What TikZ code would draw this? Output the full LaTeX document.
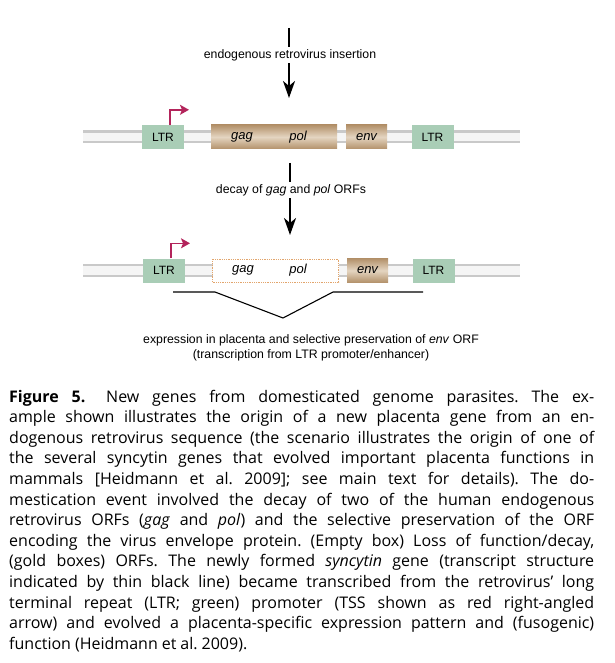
\documentclass[tikz,border=0pt]{standalone}
\usepackage{fontspec}
\setmainfont{Liberation Sans}
\newfontfamily\capfont{Open Sans}
\usetikzlibrary{arrows.meta}

\definecolor{ltrgreen}{HTML}{A9CDB6}
\definecolor{orftan}{HTML}{B3916A}
\definecolor{orflight}{HTML}{E4D5C1}
\definecolor{tssred}{HTML}{B3245B}
\definecolor{decayorange}{HTML}{E2A56C}

\newcommand{\capline}[1]{\hbox to 585pt{#1}}

\tikzset{
  dna/.style={line width=13pt, color=gray!42},
  dnacore/.style={line width=8.5pt, color=gray!8},
  ltrbox/.style={fill=ltrgreen, minimum width=42pt, minimum height=24pt, inner sep=0pt,
    font=\fontsize{12}{14}\selectfont},
  orfbox/.style={top color=orftan, bottom color=orftan, middle color=orflight,
    minimum height=24pt, inner sep=0pt, font=\fontsize{13}{15}\selectfont\itshape},
  emptybox/.style={draw=decayorange, densely dotted, line width=0.8pt, fill=white,
    minimum height=23pt, inner sep=0pt},
  orflabel/.style={inner sep=0pt, font=\fontsize{13}{15}\selectfont\itshape},
  lbl/.style={inner sep=2.5pt, font=\fontsize{12.3}{14.5}\selectfont},
  stem/.style={line width=2pt},
  bigarrow/.style={line width=2pt, -{Stealth[length=17pt,width=12pt,inset=5pt]}},
  tss/.style={draw=tssred, line width=1.6pt, -{Stealth[length=9pt,width=10pt,inset=2pt,fill=tssred]}},
  transcript/.style={line width=1.1pt}
}

\begin{document}
\begin{tikzpicture}[x=1pt, y=-1pt]
\useasboundingbox (0,0) rectangle (614,663);

% insertion
\coordinate (insTop) at (289,28);
\coordinate (insTip) at (289,98);
\node[lbl] (ins) at (290,55) {endogenous retrovirus insertion};
\draw[stem] (insTop) -- (insTop |- ins.north);
\draw[bigarrow] (insTop |- ins.south) -- (insTip);

% provirus
\coordinate (dnaAl) at (83,137);
\coordinate (dnaAr) at (520,137);
\draw[dna] (dnaAl) -- (dnaAr);
\draw[dnacore] (dnaAl) -- (dnaAr);
\node[ltrbox] (ltrA) at (163,137) {LTR};
\node[orfbox, minimum width=126pt] (gagpolA) at (274,137) {};
\node[orflabel] (gagA) at (242,137) {gag};
\node[orflabel] (polA) at (298,137) {pol};
\node[orfbox, minimum width=41pt] (envA) at (366.5,137) {env};
\node[ltrbox] (ltrB) at (432.5,137) {LTR};
\draw[tss] ([xshift=7pt]ltrA.north) -- ++(0,-15) -- ++(19,0);

% decay
\coordinate (decTop) at (290,163);
\coordinate (decTip) at (290,235);
\node[lbl] (dec) at (291,190) {decay of \textit{gag} and \textit{pol} ORFs};
\draw[stem] (decTop) -- (decTop |- dec.north);
\draw[bigarrow] (decTop |- dec.south) -- (decTip);

% syncytin gene
\coordinate (dnaBl) at (83,270.5);
\coordinate (dnaBr) at (520,270.5);
\draw[dna] (dnaBl) -- (dnaBr);
\draw[dnacore] (dnaBl) -- (dnaBr);
\node[ltrbox] (ltrC) at (164,270.5) {LTR};
\node[emptybox, minimum width=126pt] (gagpolB) at (275.5,270.5) {};
\node[orflabel] (gagB) at (243,270.5) {gag};
\node[orflabel] (polB) at (298,270.5) {pol};
\node[orfbox, minimum width=41pt] (envB) at (367.5,270.5) {env};
\node[ltrbox] (ltrD) at (433.5,270.5) {LTR};
\draw[tss] ([xshift=7pt]ltrC.north) -- ++(0,-15) -- ++(19,0);

% transcript
\draw[transcript] (173,292) -- (215,292) -- (283,318) -- (333,292) -- (423,292);
\node[lbl, align=center] (expr) at (311,348)
  {expression in placenta and selective preservation of \textit{env} ORF\\
   (transcription from LTR promoter/enhancer)};

% caption
\node[anchor=base west, inner sep=0pt, font=\capfont\fontsize{16}{20.6}\selectfont\frenchspacing] (caption) at (9,402)
  {\vtop{\spaceskip=0.25em plus 0.4em minus 0.12em\relax
   \capline{\textbf{Figure 5.}\hspace{0.5em} New genes from domesticated genome parasites. The ex-}
   \capline{ample shown illustrates the origin of a new placenta gene from an en-}
   \capline{dogenous retrovirus sequence (the scenario illustrates the origin of one of}
   \capline{the several syncytin genes that evolved important placenta functions in}
   \capline{mammals [Heidmann et al. 2009]; see main text for details). The do-}
   \capline{mestication event involved the decay of two of the human endogenous}
   \capline{retrovirus ORFs (\textit{gag} and \textit{pol}) and the selective preservation of the ORF}
   \capline{encoding the virus envelope protein. (Empty box) Loss of function/decay,}
   \capline{(gold boxes) ORFs. The newly formed \textit{syncytin} gene (transcript structure}
   \capline{indicated by thin black line) became transcribed from the retrovirus’ long}
   \capline{terminal repeat (LTR; green) promoter (TSS shown as red right-angled}
   \capline{arrow) and evolved a placenta-specific expression pattern and (fusogenic)}
   \hbox{function (Heidmann et al. 2009).}}};
\end{tikzpicture}
\end{document}
